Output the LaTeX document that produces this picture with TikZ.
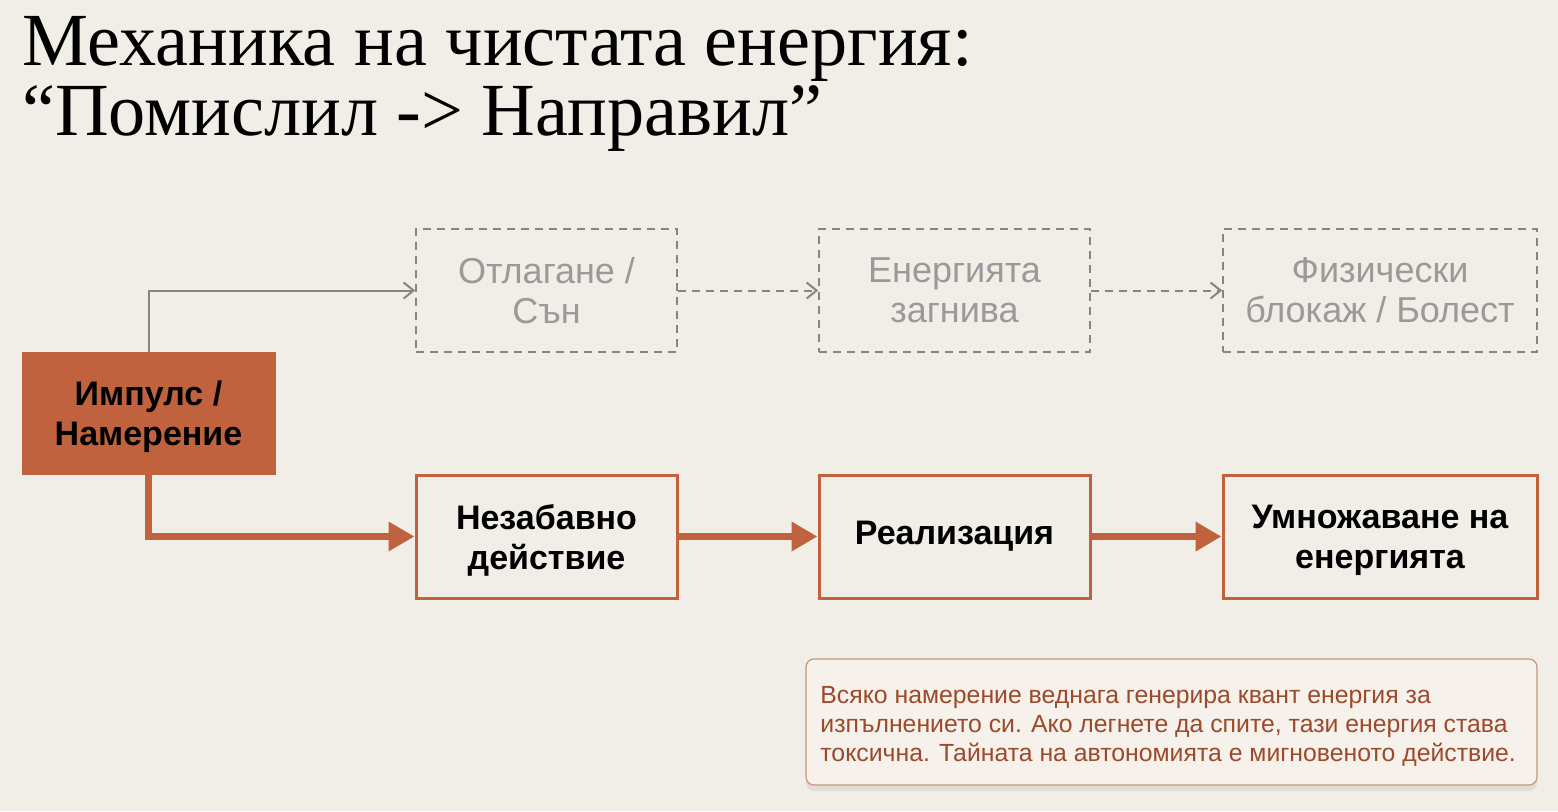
\documentclass[tikz,border=0pt]{standalone}
\usepackage{fontspec}
\setmainfont{Liberation Sans}
\newfontfamily\titlefont[FakeStretch=0.99]{Liberation Serif}
\usetikzlibrary{arrows.meta,shadows}
\definecolor{bg}{HTML}{F1EEE8}
\definecolor{rust}{HTML}{C0623D}
\definecolor{ghost}{HTML}{9A9A9A}
\definecolor{ghostline}{HTML}{858585}
\definecolor{notefill}{HTML}{F6F1EA}
\definecolor{noteline}{HTML}{C9957A}
\definecolor{notetext}{HTML}{9B4A2C}
\newcommand{\dnstrut}{\rule{0pt}{16pt}}
\tikzset{
  box/.style={draw=rust, line width=1.5pt, fill=bg, minimum width=130.5pt, minimum height=61.5pt, align=center, font=\fontsize{17}{20}\selectfont\bfseries, inner sep=0pt},
  ghostbox/.style={draw=ghostline, dashed, dash pattern=on 4pt off 3pt, line width=0.8pt, minimum height=61.5pt, align=center, font=\fontsize{18}{20}\selectfont, text=ghost, inner sep=0pt},
  bigarrow/.style={draw=rust, line width=3.4pt, -{Triangle[length=13pt,width=14pt]}},
  thinarrow/.style={draw=ghostline, line width=1pt, -{Straight Barb[length=5pt,width=8pt]}},
  dasharrow/.style={draw=ghostline, line width=1pt, dash pattern=on 4pt off 3pt, -{Straight Barb[length=5pt,width=8pt]}},
}
\begin{document}
\begin{tikzpicture}[x=0.5pt,y=-0.5pt]
\fill[bg] (0,0) rectangle (1558,811);
\useasboundingbox (0,0) rectangle (1558,811);
% title
\node[anchor=base west, inner sep=0pt, font=\titlefont\fontsize{37.5}{36}\selectfont] (t1) at (22,65) {Механика на чистата енергия:};
\node[anchor=base west, inner sep=0pt, font=\titlefont\fontsize{37.5}{36}\selectfont] (t2) at (22,135) {“Помислил -> Направил”};
% impulse
\node[draw=rust, fill=rust, minimum width=126.5pt, minimum height=61pt, align=center, inner sep=0pt, font=\fontsize{17}{20}\selectfont\bfseries] (imp) at (148.5,413) {\dnstrut Импулс /\\Намерение};
% ghost boxes
\node[ghostbox, minimum width=130.5pt] (g1) at (546.5,290.5) {Отлагане /\\Сън};
\node[ghostbox, minimum width=135.5pt] (g2) at (954.5,290.5) {Енергията\\загнива};
\node[ghostbox, minimum width=157pt] (g3) at (1380,290.5) {Физически\\блокаж / Болест};
% solid boxes
\node[box, minimum width=130.5pt] (a) at (546.5,536.5) {\dnstrut Незабавно\\действие};
\node[box, minimum width=135.5pt] (b) at (954.5,536.5) {Реализация};
\node[box, minimum width=157pt] (c) at (1380,536.5) {\dnstrut Умножаване на\\енергията};
% connectors
\draw[thinarrow] (imp.north) |- (g1.west);
\draw[dasharrow] (g1.east) -- (g2.west);
\draw[dasharrow] (g2.east) -- (g3.west);
\draw[bigarrow] (imp.south) |- (a.west);
\draw[bigarrow] (a.east) -- (b.west);
\draw[bigarrow] (b.east) -- (c.west);
% note
\node[draw=noteline, fill=notefill, line width=0.6pt, rounded corners=4pt, drop shadow={shadow xshift=0pt, shadow yshift=-3pt, opacity=0.15}, minimum width=365.5pt, minimum height=63pt, inner sep=0pt] (note) at (1171.5,722) {};
\node[anchor=north west, align=left, inner sep=0pt, text=notetext, font=\fontsize{12.4}{14.5}\selectfont] (notetxt) at (820,686) {Всяко намерение веднага генерира квант енергия за\\изпълнението си. Ако легнете да спите, тази енергия става\\токсична. Тайната на автономията е мигновеното действие.};
\end{tikzpicture}
\end{document}
